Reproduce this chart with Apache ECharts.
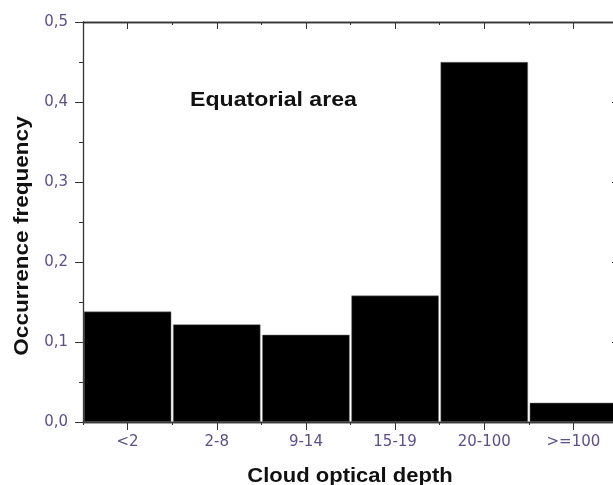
<!DOCTYPE html>
<html><head><meta charset="utf-8">
<script src="https://cdn.jsdelivr.net/npm/echarts@6/dist/echarts.min.js"></script>
<style>html,body{margin:0;padding:0;background:#fff}#c{width:613px;height:485px}</style>
</head><body><div id="c"></div>
<script>
const categories = ['<2', '2-8', '9-14', '15-19', '20-100', '>=100'];
const frequency = [0.138, 0.122, 0.109, 0.158, 0.450, 0.024];
const yTicks = [0, 0.1, 0.2, 0.3, 0.4, 0.5];

const axisColor = '#333';
const labelColor = '#5e4f88';
const chart = echarts.init(document.getElementById('c'));
const hidden = {show: false};
function catAxis(pos, opts) {
  return Object.assign({
    type: 'category', data: categories, position: pos,
    axisLine: {show: true, lineStyle: {color: axisColor, width: 1.3}},
    axisLabel: {show: false}, splitLine: hidden
  }, opts);
}
const boldText = {fontFamily: 'Liberation Sans', fontWeight: 'bold', fill: '#111'};
chart.setOption({
  animation: false,
  grid: {left: 83, width: 535, top: 22, bottom: 63, containLabel: false, outerBoundsMode: 'none'},
  graphic: [
    {type: 'text', x: 190, y: 100, scaleX: 1.1,
     style: Object.assign({text: 'Equatorial area', fontSize: 21, align: 'left', verticalAlign: 'middle'}, boldText)},
    {type: 'text', x: 22, y: 236, rotation: Math.PI / 2, scaleX: 1.1,
     style: Object.assign({text: 'Occurrence frequency', fontSize: 20.5, align: 'center', verticalAlign: 'middle'}, boldText)},
    {type: 'text', x: 350, y: 476, scaleX: 1.1,
     style: Object.assign({text: 'Cloud optical depth', fontSize: 20, align: 'center', verticalAlign: 'middle'}, boldText)}
  ],
  xAxis: [
    catAxis('bottom', {
      axisTick: {show: true, alignWithLabel: true, length: 8, lineStyle: {color: axisColor}},
      axisLabel: {show: true, margin: 13, color: labelColor, fontFamily: 'DejaVu Sans', fontSize: 15}
    }),
    catAxis('bottom', {axisTick: {show: true, length: 3, lineStyle: {color: axisColor}}}),
    catAxis('top', {axisTick: {show: true, inside: true, alignWithLabel: true, length: 7, lineStyle: {color: axisColor}}}),
    catAxis('top', {axisTick: {show: true, inside: true, length: 3, lineStyle: {color: axisColor}}})
  ],
  yAxis: [
    {
      type: 'value', min: yTicks[0], max: yTicks[yTicks.length - 1], interval: 0.1, position: 'left',
      axisLine: {show: true, lineStyle: {color: axisColor, width: 1.3}},
      axisTick: {show: true, length: 8, lineStyle: {color: axisColor}},
      minorTick: {show: true, splitNumber: 2, length: 4, lineStyle: {color: axisColor}},
      splitLine: hidden,
      axisLabel: {margin: 15, color: labelColor, fontFamily: 'DejaVu Sans', fontSize: 15,
        formatter: v => v.toFixed(1).replace('.', ',')}
    },
    {
      type: 'value', min: yTicks[0], max: yTicks[yTicks.length - 1], interval: 0.1, position: 'right',
      axisLine: {show: true, lineStyle: {color: axisColor, width: 1.3}},
      axisTick: {show: true, inside: true, length: 6, lineStyle: {color: axisColor}},
      axisLabel: hidden, splitLine: hidden
    }
  ],
  series: [{
    type: 'bar', data: frequency, xAxisIndex: 0, yAxisIndex: 0,
    barCategoryGap: '2%',
    itemStyle: {color: '#000', borderColor: '#777', borderWidth: 0.5}
  }]
});
</script></body></html>
